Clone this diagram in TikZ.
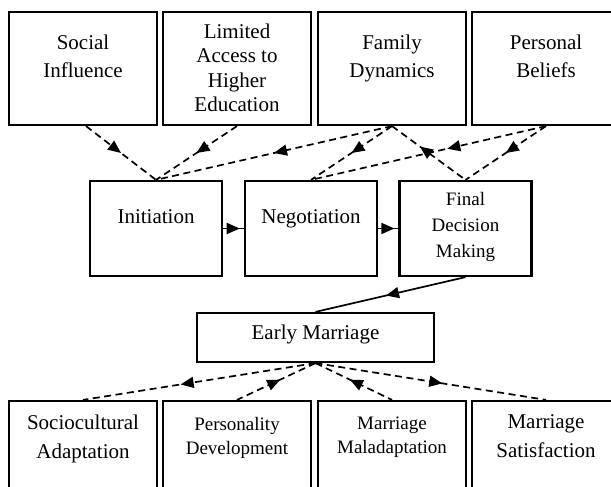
\documentclass[tikz,border=0pt]{standalone}
\usepackage{fontspec}
\setmainfont{Liberation Serif}
\newfontfamily\tnr{Liberation Serif}
\usetikzlibrary{arrows.meta,decorations.markings}
\tikzset{
  box/.style={draw, line width=2.2pt, inner sep=0pt},
  txt/.style={inner sep=0pt, align=center, anchor=north},
  fa/.style={font=\tnr\fontsize{21}{28}\selectfont},
  fb/.style={font=\tnr\fontsize{21}{24.5}\selectfont},
  fc/.style={font=\tnr\fontsize{19}{26}\selectfont},
  fd/.style={font=\tnr\fontsize{21}{29}\selectfont},
  fe/.style={font=\tnr\fontsize{19}{24}\selectfont},
  conn/.style={line width=1.7pt},
  dconn/.style={line width=1.7pt, dash pattern=on 7pt off 4.5pt},
  fwd/.style={postaction={decorate}, decoration={markings, mark=at position #1 with {\arrow{Triangle[length=13pt,width=11pt]}}}},
  bwd/.style={postaction={decorate}, decoration={markings, mark=at position #1 with {\arrowreversed{Triangle[length=13pt,width=11pt]}}}},
}
\begin{document}
\begin{tikzpicture}[x=1pt,y=-1pt]
\useasboundingbox[fill=white] (0,0) rectangle (611,487);
% top row
\node[box, minimum width=148pt, minimum height=113pt] (soc) at (83,68.5) {};
\node[box, minimum width=148pt, minimum height=113pt] (lim) at (237,68.5) {};
\node[box, minimum width=148pt, minimum height=113pt] (fam) at (392,68.5) {};
\node[box, minimum width=148pt, minimum height=113pt] (per) at (546,68.5) {};
\node[txt, fa] (socT) at ([yshift=-23.5pt]soc.north) {Social\\Influence};
\node[txt, fb] (limT) at ([yshift=-12.5pt]lim.north) {Limited\\Access to\\Higher\\Education};
\node[txt, fa] (famT) at ([yshift=-23.5pt]fam.north) {Family\\Dynamics};
\node[txt, fa] (perT) at ([yshift=-23.5pt]per.north) {Personal\\Beliefs};
% middle row
\node[box, minimum width=132pt, minimum height=95pt] (ini) at (156,228.5) {};
\node[box, minimum width=132pt, minimum height=95pt] (neg) at (311,228.5) {};
\node[box, minimum width=132pt, minimum height=95pt] (fin) at (465.5,228.5) {};
\node[txt, fa] (iniT) at ([yshift=-29.5pt]ini.north) {Initiation};
\node[txt, fa] (negT) at ([yshift=-29.5pt]neg.north) {Negotiation};
\node[txt, fc] (finT) at ([yshift=-12pt]fin.north) {Final\\Decision\\Making};
% early marriage
\node[box, minimum width=237pt, minimum height=49pt] (ear) at (315.5,337.5) {};
\node[txt, fa] (earT) at ([yshift=-12.5pt]ear.north) {Early Marriage};
% bottom row
\node[box, minimum width=148pt, minimum height=158pt] (soa) at (83,480) {};
\node[box, minimum width=148pt, minimum height=158pt] (pde) at (237,480) {};
\node[box, minimum width=148pt, minimum height=158pt] (mma) at (392,480) {};
\node[box, minimum width=148pt, minimum height=158pt] (msa) at (546,480) {};
\node[txt, fd] (soaT) at ([yshift=-14.5pt]soa.north) {Sociocultural\\Adaptation};
\node[txt, fe] (pdeT) at ([yshift=-17pt]pde.north) {Personality\\Development};
\node[txt, fe] (mmaT) at ([yshift=-17pt]mma.north) {Marriage\\Maladaptation};
\node[txt, fd] (msaT) at ([yshift=-14.5pt]msa.north) {Marriage\\Satisfaction};
% top dashed connectors
\draw[dconn, fwd=0.5] ([xshift=3pt]soc.south) -- (ini.north);
\draw[dconn, fwd=0.5] (lim.south) -- (ini.north);
\draw[dconn, fwd=0.5] (fam.south) -- (ini.north);
\draw[dconn, fwd=0.5] (fam.south) -- (neg.north);
\draw[dconn, bwd=0.38] (fam.south) -- (fin.north);
\draw[dconn, fwd=0.42] (per.south) -- (neg.north);
\draw[dconn, fwd=0.5] (per.south) -- (fin.north);
% process arrows
\draw[conn, fwd=0.8] (ini.east) -- (neg.west);
\draw[conn, fwd=0.8] (neg.east) -- (fin.west);
\draw[conn, fwd=0.53] (fin.south) -- (ear.north);
% bottom dashed connectors
\draw[dconn, fwd=0.58] (ear.south) -- (soa.north);
\draw[dconn, bwd=0.45] (ear.south) -- (pde.north);
\draw[dconn, bwd=0.45] (ear.south) -- (mma.north);
\draw[dconn, fwd=0.55] (ear.south) -- (msa.north);
\end{tikzpicture}
\end{document}
